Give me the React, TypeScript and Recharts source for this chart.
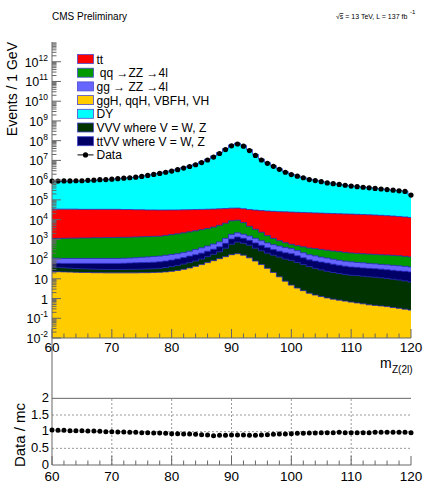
import React from "react";
import { ComposedChart, Area, Line, XAxis, YAxis, ReferenceLine } from "recharts";

const FONT = "'Liberation Sans', Arial, Helvetica, sans-serif";
const FRAME = "#666666";
const EDGE = "#2a2ac0";

// bin centres, 1 GeV
const mass = [
  60, 61, 62, 63, 64, 65, 66, 67, 68, 69,
  70, 71, 72, 73, 74, 75, 76, 77, 78, 79,
  80, 81, 82, 83, 84, 85, 86, 87, 88, 89,
  90, 91, 92, 93, 94, 95, 96, 97, 98, 99,
  100, 101, 102, 103, 104, 105, 106, 107, 108, 109,
  110, 111, 112, 113, 114, 115, 116, 117, 118, 119, 120,
];

const ggH = [
  23.4, 22.9, 22.4, 21.9, 21.4, 20.9, 20.9, 20.4, 20.4, 20,
  20, 20, 20, 20, 20, 20.4, 20.4, 20.9, 21.4, 22.4,
  24, 26.3, 30.2, 35.5, 42.7, 52.5, 66.1, 83.2, 105, 132,
  166, 186, 158, 115, 79.4, 52.5, 33.9, 20.9, 12.6, 7.6,
  4.8, 3.4, 2.5, 1.86, 1.51, 1.26, 1.07, 0.93, 0.83, 0.74,
  0.66, 0.6, 0.54, 0.48, 0.45, 0.42, 0.39, 0.35, 0.32, 0.29, 0.26,
];

const VVV = [
  16.4, 15.1, 13.9, 12.8, 11.7, 11.5, 10.7, 10.5, 9.8, 9.5,
  9.5, 9.5, 9.5, 10.2, 10.2, 10.5, 11.2, 11.5, 12.5, 14.8,
  17.7, 21.6, 26, 30.6, 36.7, 47.5, 66, 91, 129, 223,
  396, 538, 473, 386, 276, 210, 166, 137, 113, 92,
  80, 64, 50, 40, 32.4, 27, 23, 20, 17.8, 15.9,
  14.4, 13.9, 13, 12.1, 11.6, 10.8, 10.1, 9.2, 8.4, 7.5, 6.6,
];

const ttVV = [
  23.3, 23.7, 24, 25.6, 27.2, 27.9, 28.7, 29.4, 30.1, 30.8,
  30.8, 30.8, 32.2, 32.9, 34.4, 35.2, 36, 36.8, 38.5, 42.2,
  47.4, 54, 64, 75, 87, 100, 119, 142, 183, 276,
  485, 594, 491, 390, 306, 238, 180, 144, 125, 109,
  101, 80, 62.5, 49.5, 45.5, 42.6, 39.1, 34.1, 30.4, 27.1,
  24.7, 23.5, 22, 21.3, 20.4, 19.7, 18.3, 17.4, 16.4, 16.2, 15.5,
];

const ggZZ = [
  49, 48, 47, 47, 47, 47, 47, 47, 47, 47,
  47, 47, 48, 49, 52, 57, 61, 66, 69, 76,
  81, 84, 94, 110, 136, 172, 206, 259, 324, 491,
  731, 820, 698, 588, 461, 350, 281, 235, 206, 180,
  153, 121, 94, 75, 66, 55, 49, 43, 38, 34,
  32.6, 29.6, 29.1, 26.4, 25.1, 22.8, 22.5, 21, 20.6, 18.7, 17.4,
];

const qqZZ = [
  984, 1012, 1015, 1041, 1041, 1068, 1068, 1095, 1095, 1123,
  1123, 1152, 1149, 1176, 1201, 1226, 1251, 1278, 1304, 1430,
  1568, 1719, 1924, 2148, 2390, 2718, 3091, 3594, 4388, 5485,
  6932, 7195, 5259, 3092, 2114, 1440, 888, 585, 394, 287,
  223, 210, 208, 197, 194, 183, 170, 159, 153, 141,
  132, 127, 121, 118, 116, 112, 111, 107, 102, 95, 89,
];

const ttbar = [
  33600, 32800, 32800, 32700, 32700, 31900, 31900, 31900, 31900, 31900,
  31900, 31900, 31100, 31100, 30300, 30300, 29500, 29500, 29000, 29000,
  29000, 29000, 29200, 29400, 29600, 29800, 30000, 30000, 30000, 29700,
  29400, 29000, 28400, 27700, 27000, 26300, 25700, 25100, 24500, 24000,
  23500, 23000, 22500, 22000, 21500, 21000, 20500, 20000, 19600, 19200,
  18800, 18400, 17900, 17400, 16900, 16300, 15700, 15000, 14300, 13500, 12700,
];

const DY = [
  8.14e5, 8.23e5, 8.43e5, 8.52e5, 8.72e5, 8.73e5, 9.25e5, 9.47e5, 1.003e6, 1.039e6,
  1.089e6, 1.154e6, 1.239e6, 1.312e6, 1.41e6, 1.565e6, 1.761e6, 2.0e6, 2.249e6, 2.614e6,
  3.038e6, 3.574e6, 4.35e6, 5.235e6, 6.518e6, 8.497e6, 1.16e7, 1.677e7, 2.512e7, 3.983e7,
  6.102e7, 7.508e7, 5.828e7, 3.55e7, 1.995e7, 1.161e7, 7.752e6, 5.422e6, 3.79e6, 2.676e6,
  2.003e6, 1.645e6, 1.364e6, 1.094e6, 9.73e5, 8.37e5, 7.25e5, 6.61e5, 5.95e5, 5.48e5,
  4.97e5, 4.64e5, 4.33e5, 4.02e5, 3.71e5, 3.46e5, 3.22e5, 3.0e5, 2.8e5, 2.61e5, 1.66e5,
];

const data = [
  8.91e5, 8.91e5, 9.12e5, 9.12e5, 9.33e5, 9.33e5, 9.77e5, 1.0e6, 1.05e6, 1.07e6,
  1.12e6, 1.18e6, 1.26e6, 1.32e6, 1.41e6, 1.55e6, 1.74e6, 1.95e6, 2.19e6, 2.51e6,
  2.88e6, 3.39e6, 4.07e6, 4.9e6, 6.03e6, 7.76e6, 1.05e7, 1.48e7, 2.24e7, 3.55e7,
  5.5e7, 6.76e7, 5.25e7, 3.16e7, 1.78e7, 1.05e7, 7.08e6, 5.01e6, 3.55e6, 2.51e6,
  1.91e6, 1.59e6, 1.32e6, 1.07e6, 9.55e5, 8.32e5, 7.24e5, 6.61e5, 6.03e5, 5.5e5,
  5.01e5, 4.68e5, 4.37e5, 4.07e5, 3.8e5, 3.55e5, 3.31e5, 3.09e5, 2.88e5, 2.69e5, 1.74e5,
];

const ratio = [
  1.05, 1.04, 1.04, 1.03, 1.03, 1.03, 1.02, 1.02, 1.01, 1.0,
  1.0, 0.99, 0.99, 0.98, 0.98, 0.97, 0.97, 0.96, 0.96, 0.95,
  0.94, 0.94, 0.93, 0.93, 0.92, 0.91, 0.9, 0.88, 0.89, 0.89,
  0.9, 0.9, 0.9, 0.89, 0.89, 0.9, 0.91, 0.92, 0.93, 0.93,
  0.94, 0.95, 0.95, 0.96, 0.96, 0.97, 0.97, 0.97, 0.98, 0.97,
  0.97, 0.97, 0.97, 0.97, 0.98, 0.98, 0.98, 0.98, 0.98, 0.98, 0.97,
];

const xMajor = [60, 70, 80, 90, 100, 110, 120];
const yMajor = [1e-2, 1e-1, 1, 10, 1e2, 1e3, 1e4, 1e5, 1e6, 1e7, 1e8, 1e9, 1e10, 1e11, 1e12];
const ratioTicks = [0, 0.5, 1, 1.5, 2];
const ratioGridX = [70, 80, 90, 100, 110];

const legendItems = [
  { label: "tt", color: "#ff0000" },
  { label: "\u00a0qq \u2192ZZ \u21924l", color: "#009900" },
  { label: "gg \u2192 ZZ \u21924l", color: "#6666ff" },
  { label: "ggH, qqH, VBFH, VH", color: "#ffcc00" },
  { label: "DY", color: "#00ffff" },
  { label: "VVV where V = W, Z", color: "#003300" },
  { label: "ttVV where V = W, Z", color: "#000066" },
];

// stack bottom-up: ggH, VVV, ttVV, ggZZ, qqZZ, tt, DY
const rows = mass.map((m, i) => {
  const s1 = ggH[i];
  const s2 = s1 + VVV[i];
  const s3 = s2 + ttVV[i];
  const s4 = s3 + ggZZ[i];
  const s5 = s4 + qqZZ[i];
  const s6 = s5 + ttbar[i];
  const s7 = s6 + DY[i];
  return { m, s1, s2, s3, s4, s5, s6, s7, data: data[i], ratio: ratio[i] };
});

// drawn back to front, each filled down to the axis floor
const layers = [
  { key: "s7", color: "#00ffff" },
  { key: "s6", color: "#ff0000" },
  { key: "s5", color: "#009900" },
  { key: "s4", color: "#6666ff" },
  { key: "s3", color: "#000066" },
  { key: "s2", color: "#003300" },
  { key: "s1", color: "#ffcc00" },
];

const xTicks: number[] = [];
for (let v = 60; v <= 120; v += 2) xTicks.push(v);
const yTicks: number[] = [];
yMajor.forEach((v) => {
  yTicks.push(v);
  for (let k = 2; k <= 9; k++) yTicks.push(v * k);
});

function MassTick({ x, y, payload, labelDy }: any) {
  const v = payload.value;
  const major = xMajor.includes(v);
  return (
    <g>
      <line x1={x} x2={x} y1={y} y2={y - (major ? 9 : 4.5)} stroke={FRAME} />
      {major && (
        <text x={x} y={y + labelDy} textAnchor="middle" fontSize={13.5} fontFamily={FONT} fill="#000">
          {v}
        </text>
      )}
    </g>
  );
}

function LogTick({ x, y, payload }: any) {
  const v = payload.value;
  const e = Math.round(Math.log10(v));
  const major = Math.abs(v / Math.pow(10, e) - 1) < 1e-6;
  return (
    <g>
      <line x1={x} x2={x + (major ? 9 : 4.5)} y1={y} y2={y} stroke={FRAME} />
      {major && (
        <text x={x - 4} y={y + 5} textAnchor="end" fontSize={12.5} fontFamily={FONT} fill="#000">
          {e === 0 ? "1" : e === 1 ? "10" : (
            <>
              10<tspan fontSize={8.5} dy={-6}>{e}</tspan>
            </>
          )}
        </text>
      )}
    </g>
  );
}

function RatioTick({ x, y, payload }: any) {
  return (
    <text x={x - 3} y={y + 3.5} textAnchor="end" fontSize={13} fontFamily={FONT} fill="#000">
      {payload.value}
    </text>
  );
}

export default function App() {
  return (
    <div
      style={{
        position: "fixed",
        left: 0,
        top: 0,
        width: 423,
        height: 485,
        background: "#fff",
        overflow: "hidden",
        fontFamily: FONT,
      }}
    >
      {/* ratio panel */}
      <div style={{ position: "absolute", left: 0, top: 338 }}>
        <ComposedChart width={423} height={147} data={rows} margin={{ top: 0, right: 12, bottom: 0, left: 0 }}>
          {ratioGridX.map((v) => (
            <ReferenceLine
              key={v}
              segment={[{ x: v, y: 0 }, { x: v, y: 2 }]}
              stroke="#999"
              strokeDasharray="2 2"
            />
          ))}
          {[0.5, 1, 1.5].map((v) => (
            <ReferenceLine key={v} y={v} stroke="#999" strokeDasharray="2 2" />
          ))}
          <ReferenceLine y={2} stroke={FRAME} />
          <Line
            dataKey="ratio"
            stroke="none"
            dot={{ r: 2.5, fill: "#000", stroke: "none" }}
            activeDot={false}
            isAnimationActive={false}
          />
          <XAxis
            dataKey="m"
            type="number"
            domain={[60, 120]}
            ticks={xTicks}
            interval={0}
            tickSize={0}
            tickMargin={0}
            tickLine={false}
            axisLine={{ stroke: FRAME }}
            height={20}
            tick={(p: any) => <MassTick {...p} labelDy={15.5} />}
          />
          <YAxis
            type="number"
            domain={[0, 3.81]}
            ticks={ratioTicks}
            interval={0}
            tickSize={0}
            tickMargin={0}
            tickLine={false}
            axisLine={{ stroke: FRAME }}
            width={52}
            tick={(p: any) => <RatioTick {...p} />}
            allowDataOverflow
          />
          <YAxis yAxisId="r" orientation="right" width={0} tick={false} tickLine={false} axisLine={{ stroke: FRAME }} />
        </ComposedChart>
      </div>

      {/* main panel */}
      <div style={{ position: "absolute", left: 0, top: 0 }}>
        <ComposedChart width={423} height={360} data={rows} margin={{ top: 42, right: 12, bottom: 0, left: 0 }}>
          {layers.map((l) => (
            <Area
              key={l.key}
              dataKey={l.key}
              type="step"
              fill={l.color}
              fillOpacity={1}
              stroke={EDGE}
              strokeWidth={0.8}
              baseValue={1e-2}
              isAnimationActive={false}
            />
          ))}
          <Line
            dataKey="data"
            stroke="none"
            dot={{ r: 2.6, fill: "#000", stroke: "none" }}
            activeDot={false}
            isAnimationActive={false}
          />
          <XAxis
            dataKey="m"
            type="number"
            domain={[60, 120]}
            ticks={xTicks}
            interval={0}
            tickSize={0}
            tickMargin={0}
            tickLine={false}
            axisLine={{ stroke: FRAME }}
            height={22}
            tick={(p: any) => <MassTick {...p} labelDy={14} />}
          />
          <XAxis
            xAxisId="top"
            orientation="top"
            dataKey="m"
            type="number"
            domain={[60, 120]}
            height={0}
            tick={false}
            tickLine={false}
            axisLine={{ stroke: FRAME }}
          />
          <YAxis
            type="number"
            scale="log"
            domain={[1e-2, 1e13]}
            ticks={yTicks}
            interval={0}
            tickSize={0}
            tickMargin={0}
            tickLine={false}
            axisLine={{ stroke: FRAME }}
            width={52}
            allowDataOverflow
            tick={(p: any) => <LogTick {...p} />}
          />
          <YAxis yAxisId="r" orientation="right" width={0} tick={false} tickLine={false} axisLine={{ stroke: FRAME }} />
        </ComposedChart>
      </div>

      {/* titles and legend */}
      <svg
        width={423}
        height={485}
        style={{ position: "absolute", left: 0, top: 0, pointerEvents: "none" }}
        fontFamily={FONT}
      >
        <text x={52} y={20} fontSize={10} fill="#000">
          CMS Preliminary
        </text>
        <text x={336} y={19} fontSize={7} fill="#000">
          {"\u221a"}
          <tspan textDecoration="overline">s</tspan> = 13 TeV, L = 137 fb
        </text>
        <text x={410} y={14} fontSize={6} fill="#000">
          -1
        </text>
        <text transform="translate(17,42) rotate(-90)" textAnchor="end" fontSize={14} fill="#000">
          Events / 1 GeV
        </text>
        <text transform="translate(25,435) rotate(-90)" textAnchor="middle" fontSize={15} fill="#000">
          Data / mc
        </text>
        <text x={380} y={368} fontSize={14} fill="#000">
          m
        </text>
        <text x={392} y={373} fontSize={10} fill="#000">
          Z(2l)
        </text>

        {legendItems.map((it, i) => {
          const cy = 59 + i * 13.7;
          return (
            <g key={it.label}>
              <rect x={77.5} y={cy - 4.5} width={16} height={9} fill={it.color} stroke="#4a4ad0" strokeWidth={0.8} />
              <text x={96.5} y={cy + 4.5} fontSize={12} fill="#000">
                {it.label}
              </text>
            </g>
          );
        })}
        <g>
          <line x1={77.5} x2={93.5} y1={59 + 7 * 13.7} y2={59 + 7 * 13.7} stroke="#000" strokeWidth={1} />
          <circle cx={85.5} cy={59 + 7 * 13.7} r={2.6} fill="#000" />
          <text x={96.5} y={59 + 7 * 13.7 + 4.5} fontSize={12} fill="#000">
            Data
          </text>
        </g>
      </svg>
    </div>
  );
}
